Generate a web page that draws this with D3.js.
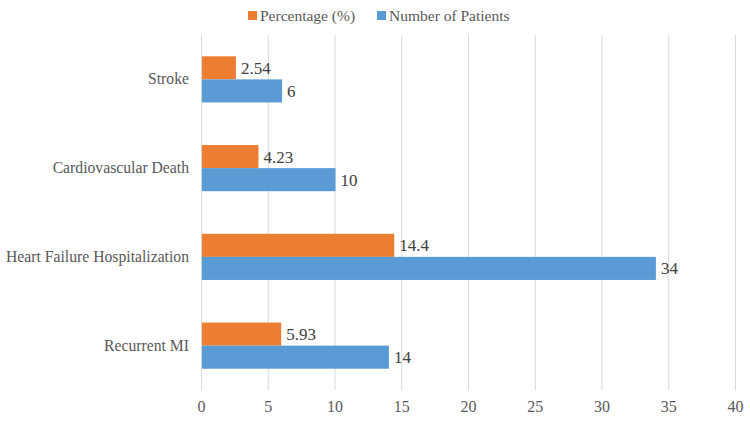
<!DOCTYPE html>
<html>
<head>
<meta charset="utf-8">
<script src="https://cdn.jsdelivr.net/npm/d3@7"></script>
<style>
  body { margin: 0; background: #fff; }
</style>
</head>
<body>
<div id="chart"></div>
<script>
const categories = ["Stroke", "Cardiovascular Death", "Heart Failure Hospitalization", "Recurrent MI"];
const percentage = [2.54, 4.23, 14.4, 5.93];
const patients = [6, 10, 34, 14];
const seriesNames = ["Percentage (%)", "Number of Patients"];
const seriesColors = ["#ED7D31", "#5B9BD5"];
const xTicks = [0, 5, 10, 15, 20, 25, 30, 35, 40];

const FONT = "'Liberation Serif', 'DejaVu Serif', serif";
const width = 750, height = 422;
const margin = { top: 35, right: 15, bottom: 32, left: 201 };
const innerW = 735 - margin.left;
const innerH = height - margin.top - margin.bottom;

const svg = d3.select("#chart").append("svg")
  .attr("width", width)
  .attr("height", height)
  .attr("font-family", FONT);

const g = svg.append("g")
  .attr("transform", `translate(${margin.left}, ${margin.top})`);

const x = d3.scaleLinear().domain([0, 40]).range([0, innerW]);
const y = d3.scaleBand().domain(categories).range([0, innerH]).paddingInner(0.48).paddingOuter(0.24);
const inner = d3.scaleBand().domain(seriesNames).range([0, y.bandwidth()]);

// gridlines
g.append("g")
  .selectAll("line")
  .data(xTicks)
  .join("line")
    .attr("x1", d => x(d) + 0.5)
    .attr("x2", d => x(d) + 0.5)
    .attr("y1", 0)
    .attr("y2", innerH)
    .attr("stroke", "#d9d9d9")
    .attr("stroke-width", 1);

// x axis labels
const xAxis = g.append("g")
  .attr("transform", `translate(0, ${innerH})`)
  .call(d3.axisBottom(x).tickValues(xTicks).tickSize(0).tickPadding(11));
xAxis.attr("font-family", FONT).attr("font-size", 16);
xAxis.select(".domain").remove();
xAxis.selectAll("text")
  .attr("font-family", FONT)
  .attr("font-size", 16)
  .attr("fill", "#595959");

// y axis labels
const yAxis = g.append("g")
  .call(d3.axisLeft(y).tickSize(0).tickPadding(12));
yAxis.attr("font-family", FONT).attr("font-size", 15.7);
yAxis.select(".domain").remove();
yAxis.selectAll("text")
  .attr("font-family", FONT)
  .attr("font-size", 15.7)
  .attr("fill", "#595959");

const rows = categories.map((c, i) => ({
  cat: c,
  vals: [
    { name: seriesNames[0], value: percentage[i], color: seriesColors[0] },
    { name: seriesNames[1], value: patients[i], color: seriesColors[1] }
  ]
}));

const groups = g.selectAll(".grp")
  .data(rows)
  .join("g")
    .attr("class", "grp")
    .attr("transform", d => `translate(0, ${y(d.cat)})`);

groups.selectAll("rect")
  .data(d => d.vals)
  .join("rect")
    .attr("x", x(0) + 1)
    .attr("y", d => inner(d.name))
    .attr("width", d => x(d.value) - x(0))
    .attr("height", inner.bandwidth())
    .attr("fill", d => d.color);

groups.selectAll(".lbl")
  .data(d => d.vals)
  .join("text")
    .attr("class", "lbl")
    .attr("x", d => x(d.value) + 6)
    .attr("y", d => inner(d.name) + inner.bandwidth() / 2)
    .attr("dy", "0.35em")
    .attr("font-family", FONT)
    .attr("font-size", 17)
    .attr("fill", "#404040")
    .text(d => d.value);

// legend
const legend = svg.append("g").attr("transform", "translate(248, 16)");
const legendX = [0, 129];
seriesNames.forEach((name, i) => {
  const item = legend.append("g").attr("transform", `translate(${legendX[i]}, 0)`);
  item.append("rect")
    .attr("x", 0).attr("y", -5)
    .attr("width", 9).attr("height", 9)
    .attr("fill", seriesColors[i]);
  item.append("text")
    .attr("x", 12).attr("y", 0)
    .attr("dy", "0.35em")
    .attr("font-family", FONT)
    .attr("font-size", 15.5)
    .attr("fill", "#595959")
    .text(name);
});
</script>
</body>
</html>
